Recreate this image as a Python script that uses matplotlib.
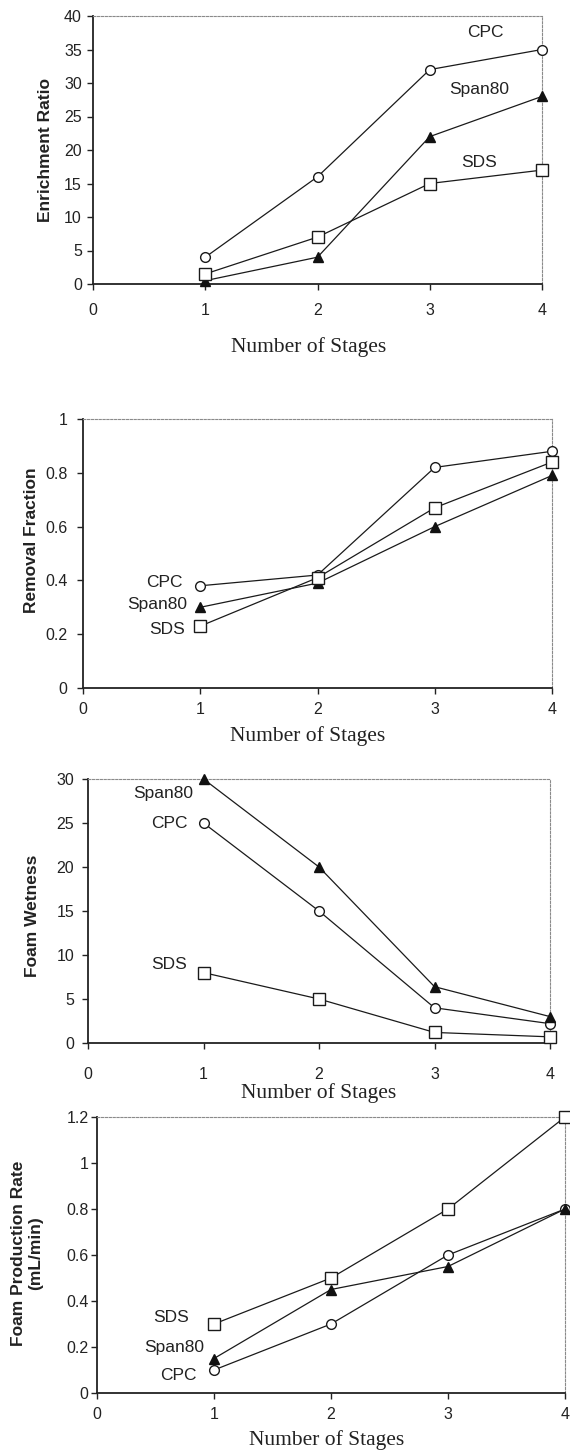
import matplotlib
matplotlib.use("Agg")
import matplotlib.pyplot as plt
from matplotlib.ticker import FuncFormatter

# x values: number of stages
stages = [1, 2, 3, 4]

# Enrichment ratio
er_cpc = [4, 16, 32, 35]
er_span80 = [0.5, 4, 22, 28]
er_sds = [1.5, 7, 15, 17]

# Removal fraction
rf_cpc = [0.38, 0.42, 0.82, 0.88]
rf_span80 = [0.30, 0.39, 0.60, 0.79]
rf_sds = [0.23, 0.41, 0.67, 0.84]

# Foam wetness
fw_cpc = [25, 15, 4, 2.2]
fw_span80 = [30, 20, 6.4, 3.0]
fw_sds = [8, 5, 1.2, 0.7]

# Foam production rate (mL/min)
fp_cpc = [0.1, 0.3, 0.6, 0.8]
fp_span80 = [0.15, 0.45, 0.55, 0.8]
fp_sds = [0.3, 0.5, 0.8, 1.2]

W, H = 570, 1456
fig = plt.figure(figsize=(W / 100, H / 100), dpi=100)
fig.patch.set_facecolor("white")

sans = "Liberation Sans"
serif = "Liberation Serif"


def box(l, t, r, b):
    # pixel box -> figure fraction
    return [l / W, 1 - b / H, (r - l) / W, (b - t) / H]


def style(ax, ymax, ystep, xpad, ypad):
    ax.set_xlim(0, 4)
    ax.set_ylim(0, ymax)
    ax.set_xticks([0, 1, 2, 3, 4])
    n = int(round(ymax / ystep))
    ax.set_yticks([i * ystep for i in range(n + 1)])
    ax.yaxis.set_major_formatter(FuncFormatter(lambda v, p: "%g" % round(v, 2)))
    for s in ["top", "right"]:
        ax.spines[s].set_color("#8a8a8a")
        ax.spines[s].set_linestyle((0, (2, 1.5)))
        ax.spines[s].set_linewidth(0.8)
    for s in ["left", "bottom"]:
        ax.spines[s].set_color("#222222")
        ax.spines[s].set_linewidth(1.3)
    ax.tick_params(axis="x", direction="out", length=4, width=1, pad=xpad,
                   labelsize=11.5, colors="#222222")
    ax.tick_params(axis="y", direction="out", length=4, width=1, pad=ypad,
                   labelsize=11.5, colors="#222222")
    for lab in ax.get_xticklabels() + ax.get_yticklabels():
        lab.set_family(sans)


def series(ax, y_cpc, y_span, y_sds):
    kw = dict(color="#1a1a1a", lw=0.9, clip_on=False, zorder=3)
    ax.plot(stages, y_cpc, marker="o", ms=7, mfc="white", mec="#1a1a1a", **kw)
    ax.plot(stages, y_span, marker="^", ms=7, mfc="#111111", mec="#111111", **kw)
    ax.plot(stages, y_sds, marker="s", ms=8, mfc="white", mec="#1a1a1a", **kw)


def labels(ax, ylab, ylx, yly, xly, xlx=0.5):
    ax.set_ylabel(ylab, fontsize=12.5, fontweight="bold", family=sans,
                  color="#222222", multialignment="center", va="center")
    ax.yaxis.set_label_coords(ylx, yly)
    ax.set_xlabel("Number of Stages", fontsize=15.5, family=serif,
                  color="#222222", va="center")
    ax.xaxis.set_label_coords(xlx, xly)


def note(ax, x, y, s, ha="left"):
    ax.text(x, y, s, fontsize=12.5, family=sans, color="#222222",
            ha=ha, va="center")


# Panel 1: Enrichment Ratio
ax1 = fig.add_axes(box(93, 16, 542, 284))
style(ax1, 40, 5, 10, 4)
series(ax1, er_cpc, er_span80, er_sds)
labels(ax1, "Enrichment Ratio", -0.105, 0.5, -0.235, 0.48)
note(ax1, 3.33, 37.5, "CPC")
note(ax1, 3.17, 29, "Span80")
note(ax1, 3.28, 18.2, "SDS")

# Panel 2: Removal Fraction
ax2 = fig.add_axes(box(83, 419, 552, 688))
style(ax2, 1.0, 0.2, 6, 7)
series(ax2, rf_cpc, rf_span80, rf_sds)
labels(ax2, "Removal Fraction", -0.11, 0.55, -0.18, 0.48)
note(ax2, 0.85, 0.394, "CPC", ha="right")
note(ax2, 0.89, 0.312, "Span80", ha="right")
note(ax2, 0.87, 0.216, "SDS", ha="right")

# Panel 3: Foam Wetness
ax3 = fig.add_axes(box(88, 779, 550, 1043))
style(ax3, 30, 5, 13, 6)
series(ax3, fw_cpc, fw_span80, fw_sds)
labels(ax3, "Foam Wetness", -0.12, 0.48, -0.19, 0.5)
note(ax3, 0.91, 28.4, "Span80", ha="right")
note(ax3, 0.86, 24.9, "CPC", ha="right")
note(ax3, 0.86, 8.9, "SDS", ha="right")

# Panel 4: Foam Production Rate
ax4 = fig.add_axes(box(97, 1117, 565, 1393))
style(ax4, 1.2, 0.2, 6, 2)
series(ax4, fp_cpc, fp_span80, fp_sds)
labels(ax4, "Foam Production Rate\n(mL/min)", -0.15, 0.507, -0.17, 0.49)
note(ax4, 0.79, 0.33, "SDS", ha="right")
note(ax4, 0.92, 0.196, "Span80", ha="right")
note(ax4, 0.85, 0.078, "CPC", ha="right")

fig.savefig("out.png", dpi=100, facecolor="white")
